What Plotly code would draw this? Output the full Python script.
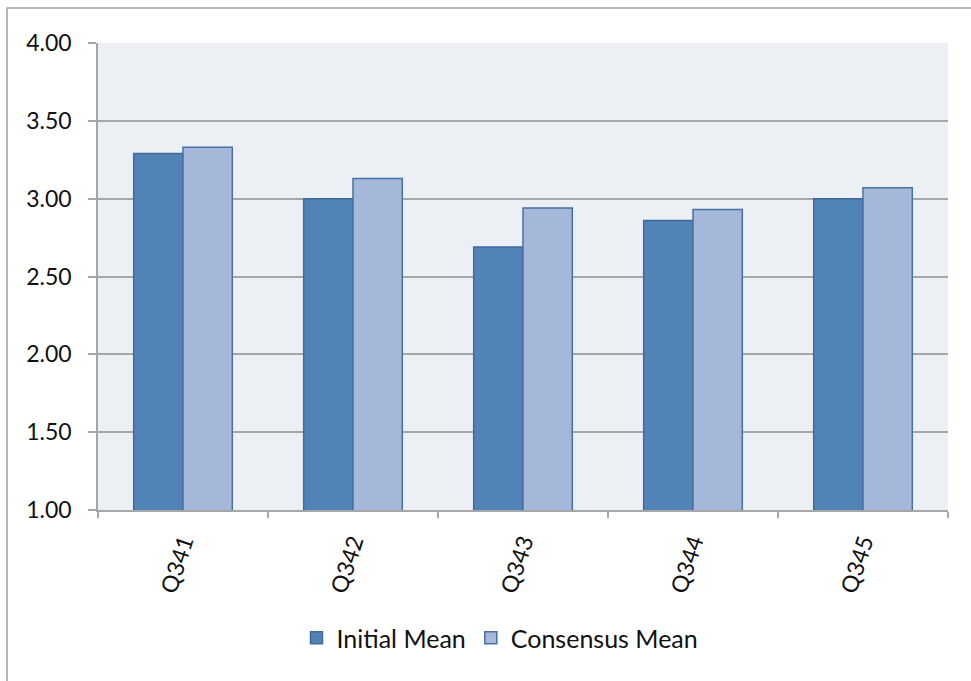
import plotly.graph_objects as go

categories = ["Q341", "Q342", "Q343", "Q344", "Q345"]
initial_mean = [3.29, 3.00, 2.69, 2.86, 3.00]
consensus_mean = [3.33, 3.13, 2.94, 2.93, 3.07]

W, H = 971, 681
L, R, T, B = 98, 23, 43, 171
pw, ph = W - L - R, H - T - B

font_family = "Lato, 'Open Sans', sans-serif"

fig = go.Figure()
fig.add_trace(go.Bar(
    x=categories, y=initial_mean, name="Initial Mean",
    marker=dict(color="#5283B7", line=dict(color="#3E6B9C", width=1.5)),
))
fig.add_trace(go.Bar(
    x=categories, y=consensus_mean, name="Consensus Mean",
    marker=dict(color="#A5B8D9", line=dict(color="#4671A3", width=1.5)),
))

fig.update_layout(
    width=W, height=H,
    margin=dict(l=L, r=R, t=T, b=B, autoexpand=False),
    paper_bgcolor="white",
    plot_bgcolor="#ECEFF4",
    barmode="group",
    bargap=0.42,
    bargroupgap=0,
    font=dict(family=font_family, size=23, color="#111111"),
    legend=dict(
        orientation="h", x=(500 - L) / pw, xanchor="center", y=(510 - 638) / ph, yanchor="middle",
        font=dict(size=25), itemwidth=30, traceorder="normal",
    ),
    showlegend=True,
)
fig.update_yaxes(
    range=[1, 4], dtick=0.5, tickformat=".2f",
    showgrid=True, gridcolor="#A6A6A6", gridwidth=1.5,
    showline=True, linecolor="#A6A6A6", linewidth=1.5,
    ticks="outside", ticklen=8, tickcolor="#A6A6A6", tickwidth=1.5,
    zeroline=False, tickfont=dict(size=23), ticklabelstandoff=12,
)
fig.update_xaxes(
    showline=True, linecolor="#A6A6A6", linewidth=1.5,
    ticks="outside", ticklen=6, tickcolor="#A6A6A6", tickwidth=1.5,
    tickson="boundaries", tickangle=-72, tickfont=dict(size=23),
    ticklabelstandoff=8,
    showgrid=False,
)
# outer chart frame
fig.add_shape(
    type="rect", xref="paper", yref="paper",
    x0=(7 - L) / pw, x1=(W + 20 - L) / pw,
    y0=-(H + 20 - T - ph) / ph, y1=1 + (T - 8) / ph,
    line=dict(color="#A0A0A0", width=1.5), fillcolor="rgba(0,0,0,0)", layer="below",
)
fig.write_html("out.html")
